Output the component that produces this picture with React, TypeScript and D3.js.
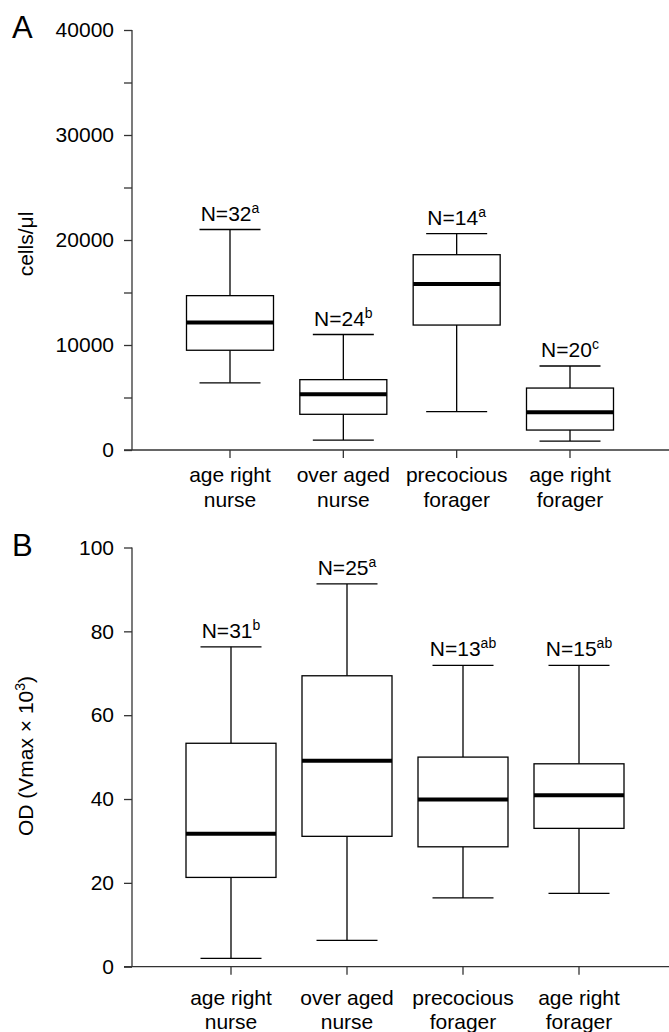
import React, { useEffect, useRef } from "react";
import * as d3 from "d3";

const categories = ["age right nurse", "over aged nurse", "precocious forager", "age right forager"];
const catLines = [["age right", "nurse"], ["over aged", "nurse"], ["precocious", "forager"], ["age right", "forager"]];

// Panel A: cells/µl  [low whisker, Q1, median, Q3, high whisker]
const aLow = [6400, 950, 3650, 850];
const aQ1 = [9500, 3400, 11900, 1900];
const aMed = [12150, 5300, 15800, 3600];
const aQ3 = [14700, 6700, 18600, 5900];
const aHigh = [21000, 11000, 20600, 8000];
const aN = ["32", "24", "14", "20"];
const aSup = ["a", "b", "a", "c"];
const aTicks = [0, 5000, 10000, 15000, 20000, 25000, 30000, 35000, 40000];
const aLabeled = [0, 10000, 20000, 30000, 40000];

// Panel B: OD (Vmax x 10^3)
const bLow = [2.0, 6.3, 16.4, 17.5];
const bQ1 = [21.3, 31.1, 28.6, 33.0];
const bMed = [31.7, 49.1, 39.9, 40.9];
const bQ3 = [53.3, 69.4, 50.0, 48.4];
const bHigh = [76.3, 91.3, 71.9, 71.9];
const bN = ["31", "25", "13", "15"];
const bSup = ["b", "a", "ab", "ab"];
const bTicks = [0, 20, 40, 60, 80, 100];

const FONT = "'Liberation Sans', Arial, Helvetica, sans-serif";

type Panel = {
  letter: string;
  letterY: number;
  top: number;
  bottom: number;
  xRange: [number, number];
  domain: [number, number];
  ticks: number[];
  labeled: number[];
  low: number[];
  q1: number[];
  med: number[];
  q3: number[];
  high: number[];
  n: string[];
  sup: string[];
  boxW: number;
  line1: number;
  line2: number;
  title: string;
  titleSup?: string;
  titleY: number;
};

const panels: Panel[] = [
  {
    letter: "A", letterY: 38, top: 30, bottom: 450, xRange: [230, 570], domain: [0, 40000],
    ticks: aTicks, labeled: aLabeled, low: aLow, q1: aQ1, med: aMed, q3: aQ3, high: aHigh,
    n: aN, sup: aSup, boxW: 87, line1: 32, line2: 57, title: "cells/\u03bcl", titleY: 244,
  },
  {
    letter: "B", letterY: 556, top: 547.5, bottom: 966.7, xRange: [231, 579], domain: [0, 100],
    ticks: bTicks, labeled: bTicks, low: bLow, q1: bQ1, med: bMed, q3: bQ3, high: bHigh,
    n: bN, sup: bSup, boxW: 90, line1: 38, line2: 62, title: "OD (Vmax \u00d7 10", titleSup: "3", titleY: 756,
  },
];

export default function App() {
  const ref = useRef<SVGSVGElement>(null);
  useEffect(() => {
    const svg = d3.select(ref.current);
    svg.selectAll("*").remove();
    const axisX = 132;
    const W = 669;
    panels.forEach((p) => {
      const g = svg.append("g");
      const y = d3.scaleLinear().domain(p.domain).range([p.bottom, p.top]);
      const x = d3.scalePoint<string>().domain(categories).range(p.xRange);

      // panel letter
      g.append("text").attr("x", 12).attr("y", p.letterY).attr("font-size", 31)
        .attr("font-family", FONT).text(p.letter);

      // y axis
      const ya = d3.axisLeft(y).tickValues(p.ticks).tickSize(8).tickPadding(10)
        .tickFormat((d) => (p.labeled.includes(+d) ? String(d) : ""));
      const yg = g.append("g").attr("transform", `translate(${axisX},0)`).call(ya);
      yg.select(".domain").attr("d", `M0,${p.top}V${p.bottom}`);
      yg.selectAll("path,line").attr("stroke", "#333").attr("stroke-width", 1.3);
      yg.selectAll("text").attr("font-size", 21).attr("font-family", FONT).attr("fill", "#000");

      // x axis
      g.append("line").attr("x1", axisX - 8).attr("x2", W).attr("y1", p.bottom).attr("y2", p.bottom)
        .attr("stroke", "#333").attr("stroke-width", 1.3);
      categories.forEach((c, i) => {
        const cx = x(c)!;
        g.append("line").attr("x1", cx).attr("x2", cx).attr("y1", p.bottom).attr("y2", p.bottom + 8)
          .attr("stroke", "#333").attr("stroke-width", 1.3);
        const t = g.append("text").attr("text-anchor", "middle").attr("font-size", 21)
          .attr("font-family", FONT);
        t.append("tspan").attr("x", cx).attr("y", p.bottom + p.line1).text(catLines[i][0]);
        t.append("tspan").attr("x", cx).attr("y", p.bottom + p.line2).text(catLines[i][1]);
      });

      // boxes
      categories.forEach((c, i) => {
        const cx = x(c)!;
        const hw = p.boxW / 2;
        const capW = 61;
        const bg = g.append("g").attr("stroke", "#000").attr("stroke-width", 1.3).attr("fill", "none");
        bg.append("line").attr("x1", cx).attr("x2", cx).attr("y1", y(p.high[i])).attr("y2", y(p.q3[i]));
        bg.append("line").attr("x1", cx).attr("x2", cx).attr("y1", y(p.q1[i])).attr("y2", y(p.low[i]));
        bg.append("line").attr("x1", cx - capW / 2).attr("x2", cx + capW / 2)
          .attr("y1", y(p.high[i])).attr("y2", y(p.high[i]));
        bg.append("line").attr("x1", cx - capW / 2).attr("x2", cx + capW / 2)
          .attr("y1", y(p.low[i])).attr("y2", y(p.low[i]));
        bg.append("rect").attr("x", cx - hw).attr("width", p.boxW)
          .attr("y", y(p.q3[i])).attr("height", y(p.q1[i]) - y(p.q3[i])).attr("fill", "#fff");
        bg.append("line").attr("x1", cx - hw).attr("x2", cx + hw)
          .attr("y1", y(p.med[i])).attr("y2", y(p.med[i])).attr("stroke-width", 4);

        const t = g.append("text").attr("x", cx).attr("y", y(p.high[i]) - 9)
          .attr("text-anchor", "middle").attr("font-size", 21).attr("font-family", FONT);
        t.append("tspan").text("N=" + p.n[i]);
        t.append("tspan").attr("dy", -8).attr("font-size", 14).text(p.sup[i]);
      });

      // y title
      const tt = g.append("text").attr("transform", `translate(33,${p.titleY}) rotate(-90)`)
        .attr("text-anchor", "middle").attr("font-size", 21).attr("font-family", FONT);
      tt.append("tspan").text(p.title);
      if (p.titleSup) {
        tt.append("tspan").attr("dy", -8).attr("font-size", 14).text(p.titleSup);
        tt.append("tspan").attr("dy", 8).text(")");
      }
    });
  }, []);
  return (
    <svg ref={ref} width={669} height={1032}
      style={{ position: "absolute", left: 0, top: 0, background: "#fff" }} />
  );
}
